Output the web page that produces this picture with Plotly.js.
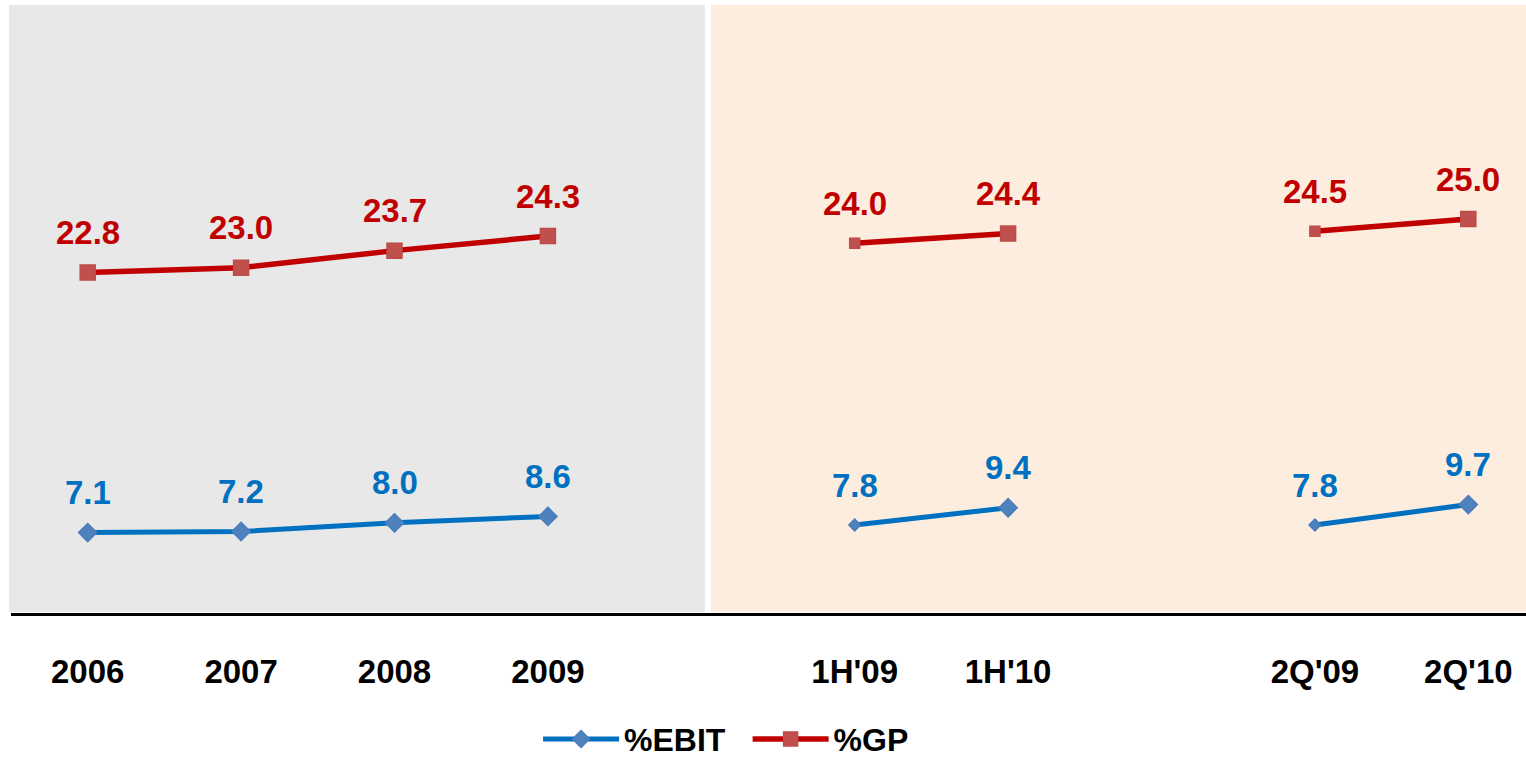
<!DOCTYPE html>
<html>
<head>
<meta charset="utf-8">
<script src="https://cdn.plot.ly/plotly-3.0.1.min.js"></script>
<style>html,body{margin:0;padding:0;background:#fff;}#chart{width:1526px;height:758px;}</style>
</head>
<body>
<div id="chart"></div>
<script>
// ---- data ----
const categories = ['2006', '2007', '2008', '2009', '', "1H'09", "1H'10", '', "2Q'09", "2Q'10"];
const ebitValues = [7.1, 7.2, 8.0, 8.6, null, 7.8, 9.4, null, 7.8, 9.7];
const gpValues = [22.8, 23.0, 23.7, 24.3, null, 24.0, 24.4, null, 24.5, 25.0];
const seriesNames = ['%EBIT', '%GP'];

// ---- style ----
const FONT = 'Arial, "Liberation Sans", sans-serif';
const xIdx = categories.map((c, i) => i);
// first point after a gap is drawn smaller (as in the reference)
function sizes(vals, big, small) {
  return vals.map((v, i) => (i > 0 && vals[i - 1] === null) ? small : big);
}

const traces = [
  {
    x: xIdx, y: ebitValues, name: seriesNames[0], type: 'scatter', mode: 'lines+markers',
    yaxis: 'y', connectgaps: false, legend: 'legend',
    line: {color: '#0070C0', width: 5},
    marker: {symbol: 'diamond', size: sizes(ebitValues, 14, 9), opacity: 1, color: '#4F81BD', line: {color: '#4A7EBB', width: 1.5}},
    hoverinfo: 'skip'
  },
  {
    x: xIdx, y: gpValues, name: seriesNames[1], type: 'scatter', mode: 'lines+markers',
    yaxis: 'y2', connectgaps: false, legend: 'legend2',
    line: {color: '#C00000', width: 5.5},
    marker: {symbol: 'square', size: sizes(gpValues, 15, 10), opacity: 1, color: '#C0504D', line: {color: '#BE4B48', width: 1.5}},
    hoverinfo: 'skip'
  }
];

const annotations = [];
ebitValues.forEach((v, i) => {
  if (v === null) return;
  annotations.push({x: i, y: v, xref: 'x', yref: 'y', text: v.toFixed(1), showarrow: false,
    yshift: 40, font: {family: FONT, size: 33, color: '#0070C0', weight: 'bold'}});
});
gpValues.forEach((v, i) => {
  if (v === null) return;
  annotations.push({x: i, y: v, xref: 'x', yref: 'y2', text: v.toFixed(1), showarrow: false,
    yshift: 40, font: {family: FONT, size: 33, color: '#C00000', weight: 'bold'}});
});

const legendBase = {orientation: 'h', xanchor: 'center', y: -0.2075, yanchor: 'middle',
  font: {family: FONT, size: 32, color: '#000', weight: 'bold'}, itemwidth: 76,
  bgcolor: 'rgba(0,0,0,0)'};

const layout = {
  width: 1526, height: 758,
  margin: {l: 11, r: 0, t: 5, b: 145, autoexpand: false},
  paper_bgcolor: '#ffffff', plot_bgcolor: 'rgba(0,0,0,0)',
  font: {family: FONT, color: '#000'},
  showlegend: true,
  legend: Object.assign({}, legendBase, {x: 0.4116}),
  legend2: Object.assign({}, legendBase, {x: 0.541}),
  xaxis: {
    range: [-0.5, 9.376], tickmode: 'array', tickvals: xIdx, ticktext: categories,
    showgrid: false, zeroline: false, showline: true, linecolor: '#000', linewidth: 3,
    ticks: '', ticklabelstandoff: 27,
    tickfont: {family: FONT, size: 33, color: '#000', weight: 'bold'}, fixedrange: true
  },
  yaxis: {range: [-0.37, 56.08], visible: false, showgrid: false, zeroline: false, fixedrange: true},
  yaxis2: {range: [8.8, 33.8], overlaying: 'y', visible: false, showgrid: false, zeroline: false, fixedrange: true},
  shapes: [
    {type: 'rect', xref: 'paper', yref: 'paper', x0: -0.0013, x1: 0.458, y0: 0.0016, y1: 1,
      fillcolor: '#E8E8E8', line: {width: 0}, layer: 'below'},
    {type: 'rect', xref: 'paper', yref: 'paper', x0: 0.462, x1: 1, y0: 0.0016, y1: 1,
      fillcolor: '#FDEDDE', line: {width: 0}, layer: 'below'}
  ],
  annotations: annotations
};

Plotly.newPlot('chart', traces, layout, {displayModeBar: false, staticPlot: true});
</script>
</body>
</html>
